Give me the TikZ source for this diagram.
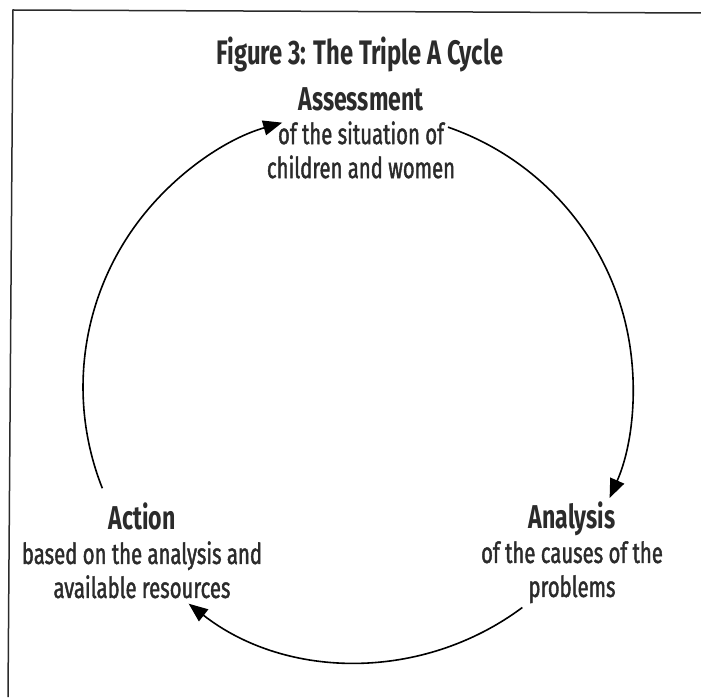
\documentclass[tikz,border=0pt]{standalone}
\usepackage{fontspec}
\newfontfamily\cyclefont{Fira Sans}[FakeStretch=0.7]
\newfontfamily\stagefont{Fira Sans}[FakeStretch=0.7,FakeBold=1.4]
\usetikzlibrary{arrows.meta}

\definecolor{ink}{HTML}{2B2B2B}

\tikzset{
  stage/.style={align=center, inner sep=0pt, anchor=north, text=ink,
    font=\stagefont\fontsize{29}{34}\selectfont},
  cycarrow/.style={line width=1.6pt, ->}
}
\newcommand{\stagehead}[1]{{\cyclefont\bfseries\fontsize{33}{34}\selectfont #1}}

\begin{document}
\begin{tikzpicture}[x=1pt,y=1pt,>={Triangle[length=19pt,width=15pt]}]
  \useasboundingbox (0,0) rectangle (701,697);
  % frame
  \draw[line width=1.5pt,ink] (8,0) -- (13,687) -- (701,684);

  \node[stage,font=\cyclefont\bfseries\fontsize{34}{34}\selectfont] (title) at (360,660) {Figure 3: The Triple A Cycle};

  % the three stages
  \node[stage] (assess) at (361,610) {\stagehead{Assessment}\\of the situation of\\children and women};
  \node[stage] (analysis) at (572,195) {\stagehead{Analysis}\\of the causes of the\\problems};
  \node[stage] (action) at (142,194) {\stagehead{Action}\\based on the analysis and\\available resources};

  % cycle
  \coordinate (hub) at (358,310);
  \draw[cycarrow] ([shift={(201.6:275)}]hub) arc[start angle=201.6,end angle=106,radius=275];
  \draw[cycarrow] ([shift={(70.9:275)}]hub) arc[start angle=70.9,end angle=-23.8,radius=275];
  \draw[cycarrow] ([shift={(-53.3:275)}]hub) arc[start angle=-53.3,end angle=-128,radius=275];
\end{tikzpicture}
\end{document}
